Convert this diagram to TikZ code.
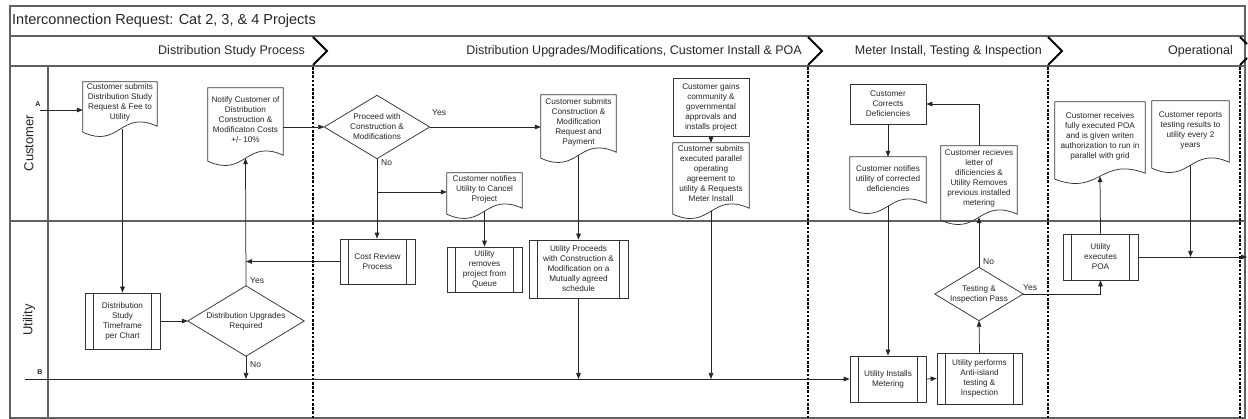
\documentclass[tikz,border=0pt]{standalone}
\usepackage{fontspec}
\setmainfont{Liberation Sans}
\usetikzlibrary{arrows.meta,calc}

\tikzset{
  frame/.style={draw=black!62, line width=1.1pt},
  chev/.style={draw=black, line width=1.8pt, line join=miter},
  sep/.style={draw=black, line width=2pt, dash pattern=on 2.6pt off 1.6pt},
  btext/.style={font=\fontsize{8.2}{10}\selectfont, align=center, inner sep=0pt, text=black!85},
  shp/.style={draw=black!80, line width=0.75pt},
  arr/.style={draw=black!85, line width=0.75pt, -{Triangle[length=6pt,width=4.6pt]}},
  hdr/.style={font=\fontsize{12.5}{14}\selectfont, inner sep=0pt, text=black!85},
  lane/.style={font=\fontsize{13}{15}\selectfont, inner sep=0pt, text=black!85},
  yn/.style={font=\fontsize{8.5}{10}\selectfont, inner sep=0pt, anchor=west, text=black!85},
  ab/.style={font=\bfseries\fontsize{7}{8}\selectfont, inner sep=0pt, text=black!85}
}

% document shape: name, x1, y1, x2, y2 (wave midline), text
\newcommand\mydoc[6]{%
  \node[inner sep=0pt, minimum width={#4-#2}, minimum height={#5-#3}] (#1) at ({(#2+#4)/2},{(#3+#5)/2}) {};
  \draw[shp] (#1.north west) -- (#1.north east) -- ($(#1.south east)+(0,-3)$)
    .. controls ($(#1.south)+(0,-20)$) and ($(#1.south)+(0,20)$) .. ($(#1.south west)+(0,3)$) -- cycle;
  \node[btext] (#1-t) at ($(#1.center)+(0,-3)$) {#6};
}
% plain process rectangle
\newcommand\myrect[6]{%
  \node[btext, shp, minimum width={#4-#2}, minimum height={#5-#3}] (#1) at ({(#2+#4)/2},{(#3+#5)/2}) {#6};
}
% predefined process
\newcommand\mypre[6]{%
  \node[btext, shp, minimum width={#4-#2}, minimum height={#5-#3}] (#1) at ({(#2+#4)/2},{(#3+#5)/2}) {#6};
  \draw[shp] ($(#1.north west)+(9,0)$) -- ($(#1.south west)+(9,0)$);
  \draw[shp] ($(#1.north east)+(-9,0)$) -- ($(#1.south east)+(-9,0)$);
}
% decision diamond: name, cx, cy, w, h, text
\newcommand\mydec[6]{%
  \node[btext, minimum width={#4}, minimum height={#5}] (#1) at (#2,#3) {#6};
  \draw[shp] (#1.north) -- (#1.east) -- (#1.south) -- (#1.west) -- cycle;
}

\begin{document}
\begin{tikzpicture}[x=1pt,y=-1pt]
\useasboundingbox (0,0) rectangle (1248,419);
\fill[white] (0,0) rectangle (1248,419);

% ---- frame ----
\draw[frame] (10,6) rectangle (1245,418);
\draw[frame, line width=1.5pt] (10,36) -- (1245,36);
\draw[frame, line width=1.5pt] (10,66) -- (1245,66);
\draw[frame] (48,66) -- (48,418);
\draw[frame] (10,221) -- (1245,221);

\node[anchor=west, font=\fontsize{14.5}{16}\selectfont, inner sep=0pt, text=black!85] (title) at (12,21) {Interconnection Request: Cat 2, 3, \& 4 Projects};

\node[hdr, anchor=east] (h1) at (305,51) {Distribution Study Process};
\node[hdr, anchor=east] (h2) at (802,51) {Distribution Upgrades/Modifications, Customer Install \& POA};
\node[hdr, anchor=east] (h3) at (1042,51) {Meter Install, Testing \& Inspection};
\node[hdr, anchor=east] (h4) at (1233,51) {Operational};

\foreach \x in {313,808,1048}{
  \draw[chev] (\x,37) -- (\x+14,51) -- (\x,65);
  \draw[sep] (\x,67) -- (\x,419);
}
\draw[chev] (1240,37) -- (1247,44);
\draw[chev] (1240,65) -- (1247,58);
\draw[sep] (1240,67) -- (1240,419);

\node[lane, rotate=90] (lc) at (29,143) {Customer};
\node[lane, rotate=90] (lu) at (29,320) {Utility};

% ---- customer lane ----
\mydoc{d1}{83}{82}{157}{129}{Customer submits\\Distribution Study\\Request \& Fee to\\Utility}
\mydoc{d2}{208}{88}{283}{158}{Notify Customer of\\Distribution\\Construction \&\\Modificaton Costs\\+/- 10\%}
\mydec{q3}{377}{127}{105}{63}{Proceed with\\Construction \&\\Modifications}
\mydoc{d4}{541}{95}{616}{155}{Customer submits\\Construction \&\\Modification\\Request and\\Payment}
\mydoc{d5}{447}{173}{522}{211}{Customer notifies\\Utility to Cancel\\Project}
\myrect{r6}{673}{78}{749}{136}{Customer gains\\community \&\\governmental\\approvals and\\installs project}
\mydoc{d7}{673}{143}{749}{211}{Customer submits\\executed parallel\\operating\\agreement to\\utility \& Requests\\Meter Install}
\myrect{r8}{850}{84}{926}{124}{Customer\\Corrects\\Deficiencies}
\mydoc{d9}{850}{157}{926}{206}{Customer notifies\\utility of corrected\\deficiencies}
\mydoc{d10}{941}{146}{1017}{217}{Customer recieves\\letter of\\dificiencies \&\\Utility Removes\\previous installed\\metering}
\mydoc{d11}{1055}{102}{1145}{176}{Customer receives\\fully executed POA\\and is given writen\\authorization to run in\\parallel with grid}
\mydoc{d12}{1152}{101}{1229}{165}{Customer reports\\testing results to\\utility every 2\\years}

% ---- utility lane ----
\mypre{p13}{85}{293}{160}{349}{Distribution\\Study\\Timeframe\\per Chart}
\mydec{q14}{246}{321}{116}{70}{Distribution Upgrades\\Required}
\mypre{p15}{340}{239}{415}{284}{Cost Review\\Process}
\mypre{p16}{447}{247}{522}{292}{Utility\\removes\\project from\\Queue}
\mypre{p17}{529}{240}{628}{298}{Utility Proceeds\\with Construction \&\\Modification on a\\Mutually agreed\\schedule}
\mypre{p18}{850}{356}{926}{402}{Utility Installs\\Metering}
\mypre{p19}{937}{353}{1022}{404}{Utility performs\\Anti-island\\testing \&\\Inspection}
\mydec{q20}{979}{294}{88}{53}{Testing \&\\Inspection Pass}
\mypre{p21}{1063}{234}{1138}{280}{Utility\\executes\\POA}

% ---- off-page connectors ----
\coordinate (A) at (40,110);
\coordinate (B) at (25,379);
\coordinate (E) at (1247,257);
\node[ab] (la) at (38,104) {A};
\node[ab] (lb) at (40,372) {B};

% ---- connectors ----
\draw[arr] (A) -- (A -| d1.west);
\draw[arr] (d1.south -| p13.north) -- (p13.north);
\draw[arr] (p13.east) -- (q14.west);
\draw[arr] (q14.north) -- (d2.south);
\draw[arr] (q14.south) -- (q14.south |- B);
\draw[arr] (p15.west) -- (p15.west -| q14.north);
\draw[arr] (d2.east |- q3.west) -- (q3.west);
\draw[arr] (q3.east) -- (q3.east -| d4.west);
\draw[arr] (q3.south) -- (p15.north -| q3.south);
\draw[arr] (q3.south |- d5.west) -- (d5.west);
\draw[arr] (d5.south) -- (p16.north);
\draw[arr] (d4.south) -- (p17.north);
\draw[arr] (p17.south) -- (p17.south |- B);
\draw[arr] (r6.south) -- (d7.north);
\draw[arr] (d7.south) -- (d7.south |- B);
\draw[arr] (B) -- (B -| p18.west);
\draw[arr] (r8.south) -- (d9.north);
\draw[arr] (d9.south) -- (p18.north);
\draw[arr] (p18.east) -- (p19.west);
\draw[arr] (p19.north) -- (q20.south);
\draw[arr] (q20.north) -- (d10.south);
\draw[arr] (d10.north) |- (r8.east);
\draw[arr] (q20.east) -| (p21.south);
\draw[arr] (p21.north) -- (d11.south);
\draw[arr] (p21.east) -- (p21.east -| E);
\draw[arr] (d12.south) -- (d12.south |- p21.east);

% ---- yes / no labels ----
\node[yn] (y1) at (432,113) {Yes};
\node[yn] (n1) at (381,163) {No};
\node[yn] (y2) at (250,281) {Yes};
\node[yn] (n2) at (250,365) {No};
\node[yn] (n3) at (983,262) {No};
\node[yn] (y3) at (1023,288) {Yes};
\end{tikzpicture}
\end{document}
